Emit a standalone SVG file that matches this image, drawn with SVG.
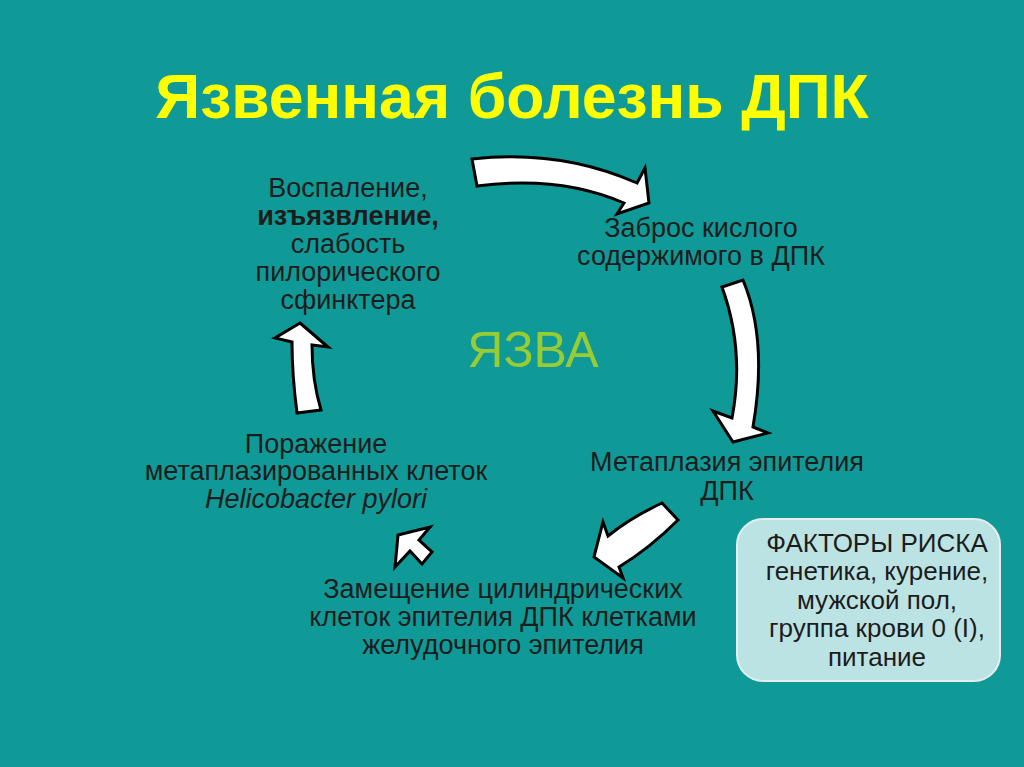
<svg xmlns="http://www.w3.org/2000/svg" width="1024" height="767" viewBox="0 0 1024 767">
<style>
.t{font-family:"Liberation Sans",Arial,sans-serif;font-size:27px;fill:#1c1c1c;text-anchor:middle}
.b{font-family:"Liberation Sans",Arial,sans-serif;font-size:26px;fill:#1c1c1c;text-anchor:middle}
.arr{fill:#ffffff;stroke:#000000;stroke-width:3;stroke-linejoin:miter}
</style>
<rect width="1024" height="767" fill="#0f9a98"/>
<text x="512" y="118" font-family="Liberation Sans,Arial,sans-serif" font-size="62.5" font-weight="bold" fill="#ffff00" text-anchor="middle">Язвенная болезнь ДПК</text>
<g id="connectors">
<path class="arr" d="M472,159 Q560,149 637,183 L645,168 L649,203 L617,214 L624,203 Q560,175 477,186 Z"/>
<path class="arr" d="M722,287 Q745,350 732,418 L713,411 L733,442 L768,433 L753,427 Q768,340 743,280 Z"/>
<path class="arr" d="M662,503 Q630,518 608,536 L603,522 L594,557 L623,578 L619,567 Q650,548 678,520 Z"/>
<path class="arr" d="M398,535 L430,527 L419,540 L432,552 L422,564 L410,551 L395,567 Z"/>
<path class="arr" d="M300,323 L328,347 L312,345 Q312,380 321,410 L297,413 Q292,375 292,342 L275,338 Z"/>
</g>
<g id="node-inflammation">
<text class="t" x="348" y="197">Воспаление,</text>
<text class="t" x="348" y="225" font-weight="bold">изъязвление,</text>
<text class="t" x="348" y="253">слабость</text>
<text class="t" x="348" y="281">пилорического</text>
<text class="t" x="348" y="309">сфинктера</text>
</g>
<g id="node-reflux">
<text class="t" x="701" y="237">Заброс кислого</text>
<text class="t" x="701" y="265">содержимого в ДПК</text>
</g>
<g id="node-ulcer">
<text x="533" y="367" font-family="Liberation Sans,Arial,sans-serif" font-size="50" fill="#99cc33" text-anchor="middle">ЯЗВА</text>
</g>
<g id="node-metaplasia">
<text class="t" x="727" y="471">Метаплазия эпителия</text>
<text class="t" x="727" y="500">ДПК</text>
</g>
<g id="node-replacement">
<text class="t" x="503" y="598">Замещение цилиндрических</text>
<text class="t" x="503" y="626">клеток эпителия ДПК клетками</text>
<text class="t" x="503" y="654">желудочного эпителия</text>
</g>
<g id="node-hp">
<text class="t" x="316" y="453">Поражение</text>
<text class="t" x="316" y="480">метаплазированных клеток</text>
<text class="t" x="316" y="508" font-style="italic">Helicobacter pylori</text>
</g>
<g id="node-risk">
<rect x="737" y="519" width="263" height="162" rx="26" ry="26" fill="#bce3e3" stroke="#e6eded" stroke-width="2"/>
<text class="b" x="877" y="552">ФАКТОРЫ РИСКА</text>
<text class="b" x="877" y="580">генетика, курение,</text>
<text class="b" x="877" y="609">мужской пол,</text>
<text class="b" x="877" y="637">группа крови 0 (I),</text>
<text class="b" x="877" y="666">питание</text>
</g>
</svg>
